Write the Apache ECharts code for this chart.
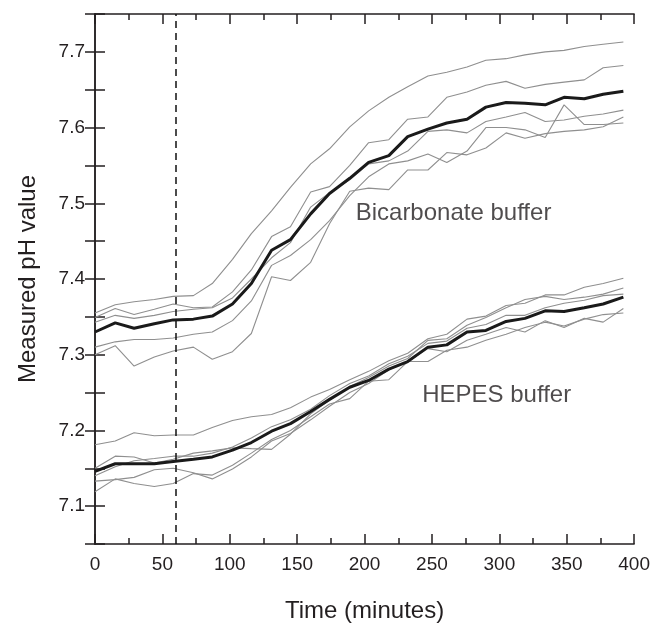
<!DOCTYPE html>
<html>
<head>
<meta charset="utf-8">
<script src="https://cdn.jsdelivr.net/npm/echarts@6/dist/echarts.min.js"></script>
<style>
  html, body { margin: 0; padding: 0; background: #fff; }
  #chart { width: 653px; height: 628px; }
</style>
</head>
<body>
<div id="chart"></div>
<script>
// sampling times (minutes)
const times = [0, 15, 29, 44, 58, 73, 87, 102, 116, 131, 145, 160, 174, 189, 203, 218, 232, 247, 261, 276, 290, 305, 319, 334, 348, 363, 377, 392];

// bicarbonate buffer: mean + single runs
const bicarbMean = [7.330, 7.342, 7.335, 7.341, 7.346, 7.347, 7.351, 7.367, 7.394, 7.438, 7.452, 7.486, 7.513, 7.533, 7.554, 7.563, 7.588, 7.598, 7.606, 7.611, 7.627, 7.633, 7.632, 7.630, 7.640, 7.638, 7.644, 7.648];
const bicarbRun1 = [7.355, 7.366, 7.370, 7.373, 7.377, 7.378, 7.394, 7.426, 7.460, 7.490, 7.521, 7.552, 7.572, 7.601, 7.622, 7.640, 7.654, 7.668, 7.673, 7.680, 7.689, 7.691, 7.696, 7.700, 7.702, 7.707, 7.710, 7.713];
const bicarbRun2 = [7.349, 7.361, 7.353, 7.360, 7.367, 7.362, 7.363, 7.383, 7.412, 7.456, 7.469, 7.515, 7.522, 7.550, 7.580, 7.584, 7.611, 7.614, 7.640, 7.647, 7.656, 7.661, 7.652, 7.657, 7.660, 7.663, 7.679, 7.682];
const bicarbRun3 = [7.343, 7.352, 7.348, 7.352, 7.357, 7.360, 7.362, 7.375, 7.400, 7.428, 7.448, 7.495, 7.514, 7.531, 7.552, 7.556, 7.569, 7.595, 7.597, 7.593, 7.608, 7.614, 7.620, 7.608, 7.610, 7.615, 7.618, 7.623];
const bicarbRun4 = [7.310, 7.317, 7.320, 7.320, 7.322, 7.327, 7.330, 7.345, 7.371, 7.418, 7.431, 7.452, 7.477, 7.510, 7.535, 7.552, 7.556, 7.565, 7.554, 7.569, 7.600, 7.600, 7.597, 7.587, 7.630, 7.604, 7.604, 7.606];
const bicarbRun5 = [7.300, 7.312, 7.285, 7.297, 7.305, 7.310, 7.294, 7.304, 7.328, 7.403, 7.398, 7.422, 7.473, 7.516, 7.520, 7.518, 7.544, 7.544, 7.567, 7.564, 7.573, 7.593, 7.586, 7.592, 7.595, 7.597, 7.601, 7.614];

// HEPES buffer: mean + single runs
const hepesMean = [7.146, 7.156, 7.156, 7.156, 7.159, 7.162, 7.165, 7.174, 7.184, 7.199, 7.209, 7.225, 7.241, 7.257, 7.266, 7.281, 7.291, 7.310, 7.313, 7.330, 7.332, 7.344, 7.348, 7.358, 7.357, 7.362, 7.367, 7.376];
const hepesRun1 = [7.181, 7.186, 7.197, 7.193, 7.194, 7.194, 7.204, 7.213, 7.218, 7.221, 7.230, 7.244, 7.254, 7.267, 7.278, 7.292, 7.302, 7.321, 7.327, 7.347, 7.351, 7.365, 7.368, 7.379, 7.379, 7.389, 7.394, 7.401];
const hepesRun2 = [7.150, 7.166, 7.165, 7.157, 7.162, 7.170, 7.173, 7.177, 7.176, 7.175, 7.195, 7.222, 7.240, 7.258, 7.270, 7.285, 7.295, 7.319, 7.321, 7.339, 7.349, 7.362, 7.373, 7.377, 7.373, 7.376, 7.380, 7.388];
const hepesRun3 = [7.140, 7.152, 7.160, 7.163, 7.166, 7.166, 7.170, 7.178, 7.190, 7.205, 7.214, 7.228, 7.246, 7.262, 7.272, 7.288, 7.298, 7.315, 7.318, 7.335, 7.340, 7.352, 7.352, 7.362, 7.368, 7.372, 7.378, 7.380];
const hepesRun4 = [7.133, 7.135, 7.138, 7.148, 7.150, 7.144, 7.136, 7.149, 7.165, 7.186, 7.196, 7.214, 7.232, 7.250, 7.262, 7.280, 7.291, 7.308, 7.304, 7.319, 7.327, 7.336, 7.330, 7.345, 7.336, 7.348, 7.343, 7.361];
const hepesRun5 = [7.119, 7.136, 7.130, 7.126, 7.130, 7.143, 7.141, 7.154, 7.170, 7.188, 7.200, 7.218, 7.235, 7.242, 7.265, 7.267, 7.291, 7.291, 7.306, 7.310, 7.319, 7.327, 7.336, 7.343, 7.338, 7.347, 7.353, 7.355];

// medium change marker and in-plot labels
const markerTime = 60;
const annotations = [
  { name: 'Bicarbonate buffer', coord: [266, 7.487] },
  { name: 'HEPES buffer', coord: [298, 7.246] },
];

const fontFamily = '"Liberation Sans", Arial, sans-serif';
const textColor = '#231f20';

const chart = echarts.init(document.getElementById('chart'));

const toPairs = (vals) => times.map((t, i) => [t, vals[i]]);

const greyLine = (vals) => ({
  type: 'line',
  data: toPairs(vals),
  symbol: 'none',
  silent: true,
  lineStyle: { color: '#8f8f8f', width: 1.1 },
  z: 2,
});

const blackLine = (vals) => ({
  type: 'line',
  data: toPairs(vals),
  symbol: 'none',
  silent: true,
  lineStyle: { color: '#1a1a1a', width: 3 },
  z: 4,
});

const axisLine = { show: true, lineStyle: { color: textColor, width: 1.5 } };
const tickStyle = { color: textColor, width: 1.5 };

chart.setOption({
  animation: false,
  backgroundColor: '#fff',
  grid: { left: 95, top: 14, width: 542, height: 542 },
  xAxis: [
    {
      type: 'value',
      min: 0,
      max: 400,
      interval: 50,
      name: 'Time (minutes)',
      nameLocation: 'middle',
      nameGap: 55,
      nameTextStyle: { fontFamily, fontSize: 24, color: textColor },
      axisLine,
      axisTick: { inside: true, length: 10, lineStyle: tickStyle },
      minorTick: { show: true, splitNumber: 2, length: 6, lineStyle: tickStyle },
      axisLabel: { fontFamily, fontSize: 19, color: textColor, margin: 11 },
      splitLine: { show: false },
    },
    {
      type: 'value',
      position: 'top',
      min: 0,
      max: 400,
      interval: 50,
      axisLine,
      axisTick: { inside: true, length: 10, lineStyle: tickStyle },
      minorTick: { show: true, splitNumber: 2, length: 6, lineStyle: tickStyle },
      axisLabel: { show: false },
      splitLine: { show: false },
    },
  ],
  yAxis: [
    {
      type: 'value',
      min: 7.05,
      max: 7.75,
      interval: 0.05,
      name: 'Measured pH value',
      nameLocation: 'middle',
      nameGap: 55,
      nameTextStyle: { fontFamily, fontSize: 24, color: textColor },
      axisLine,
      axisTick: { inside: true, length: 10, lineStyle: tickStyle },
      axisLabel: {
        fontFamily,
        fontSize: 19,
        color: textColor,
        margin: 10,
        formatter: (v) => (Math.round(v * 100) % 10 === 0 ? v.toFixed(1) : ''),
      },
      splitLine: { show: false },
    },
    {
      type: 'value',
      position: 'right',
      min: 7.05,
      max: 7.75,
      interval: 0.05,
      axisLine,
      axisTick: { inside: true, length: 10, lineStyle: tickStyle },
      axisLabel: { show: false },
      splitLine: { show: false },
    },
  ],
  series: [
    greyLine(bicarbRun1),
    greyLine(bicarbRun2),
    greyLine(bicarbRun3),
    greyLine(bicarbRun4),
    greyLine(bicarbRun5),
    greyLine(hepesRun1),
    greyLine(hepesRun2),
    greyLine(hepesRun3),
    greyLine(hepesRun4),
    greyLine(hepesRun5),
    blackLine(bicarbMean),
    {
      ...blackLine(hepesMean),
      markLine: {
        silent: true,
        symbol: 'none',
        label: { show: false },
        lineStyle: { color: '#111', type: [7, 5], width: 1.5 },
        data: [{ xAxis: markerTime }],
      },
    },
    {
      type: 'scatter',
      data: annotations.map((a) => ({ name: a.name, value: a.coord })),
      symbolSize: 0,
      silent: true,
      z: 5,
      label: {
        show: true,
        position: 'inside',
        formatter: '{b}',
        fontFamily,
        fontSize: 24,
        color: textColor,
      },
    },
  ],
});
</script>
</body>
</html>
